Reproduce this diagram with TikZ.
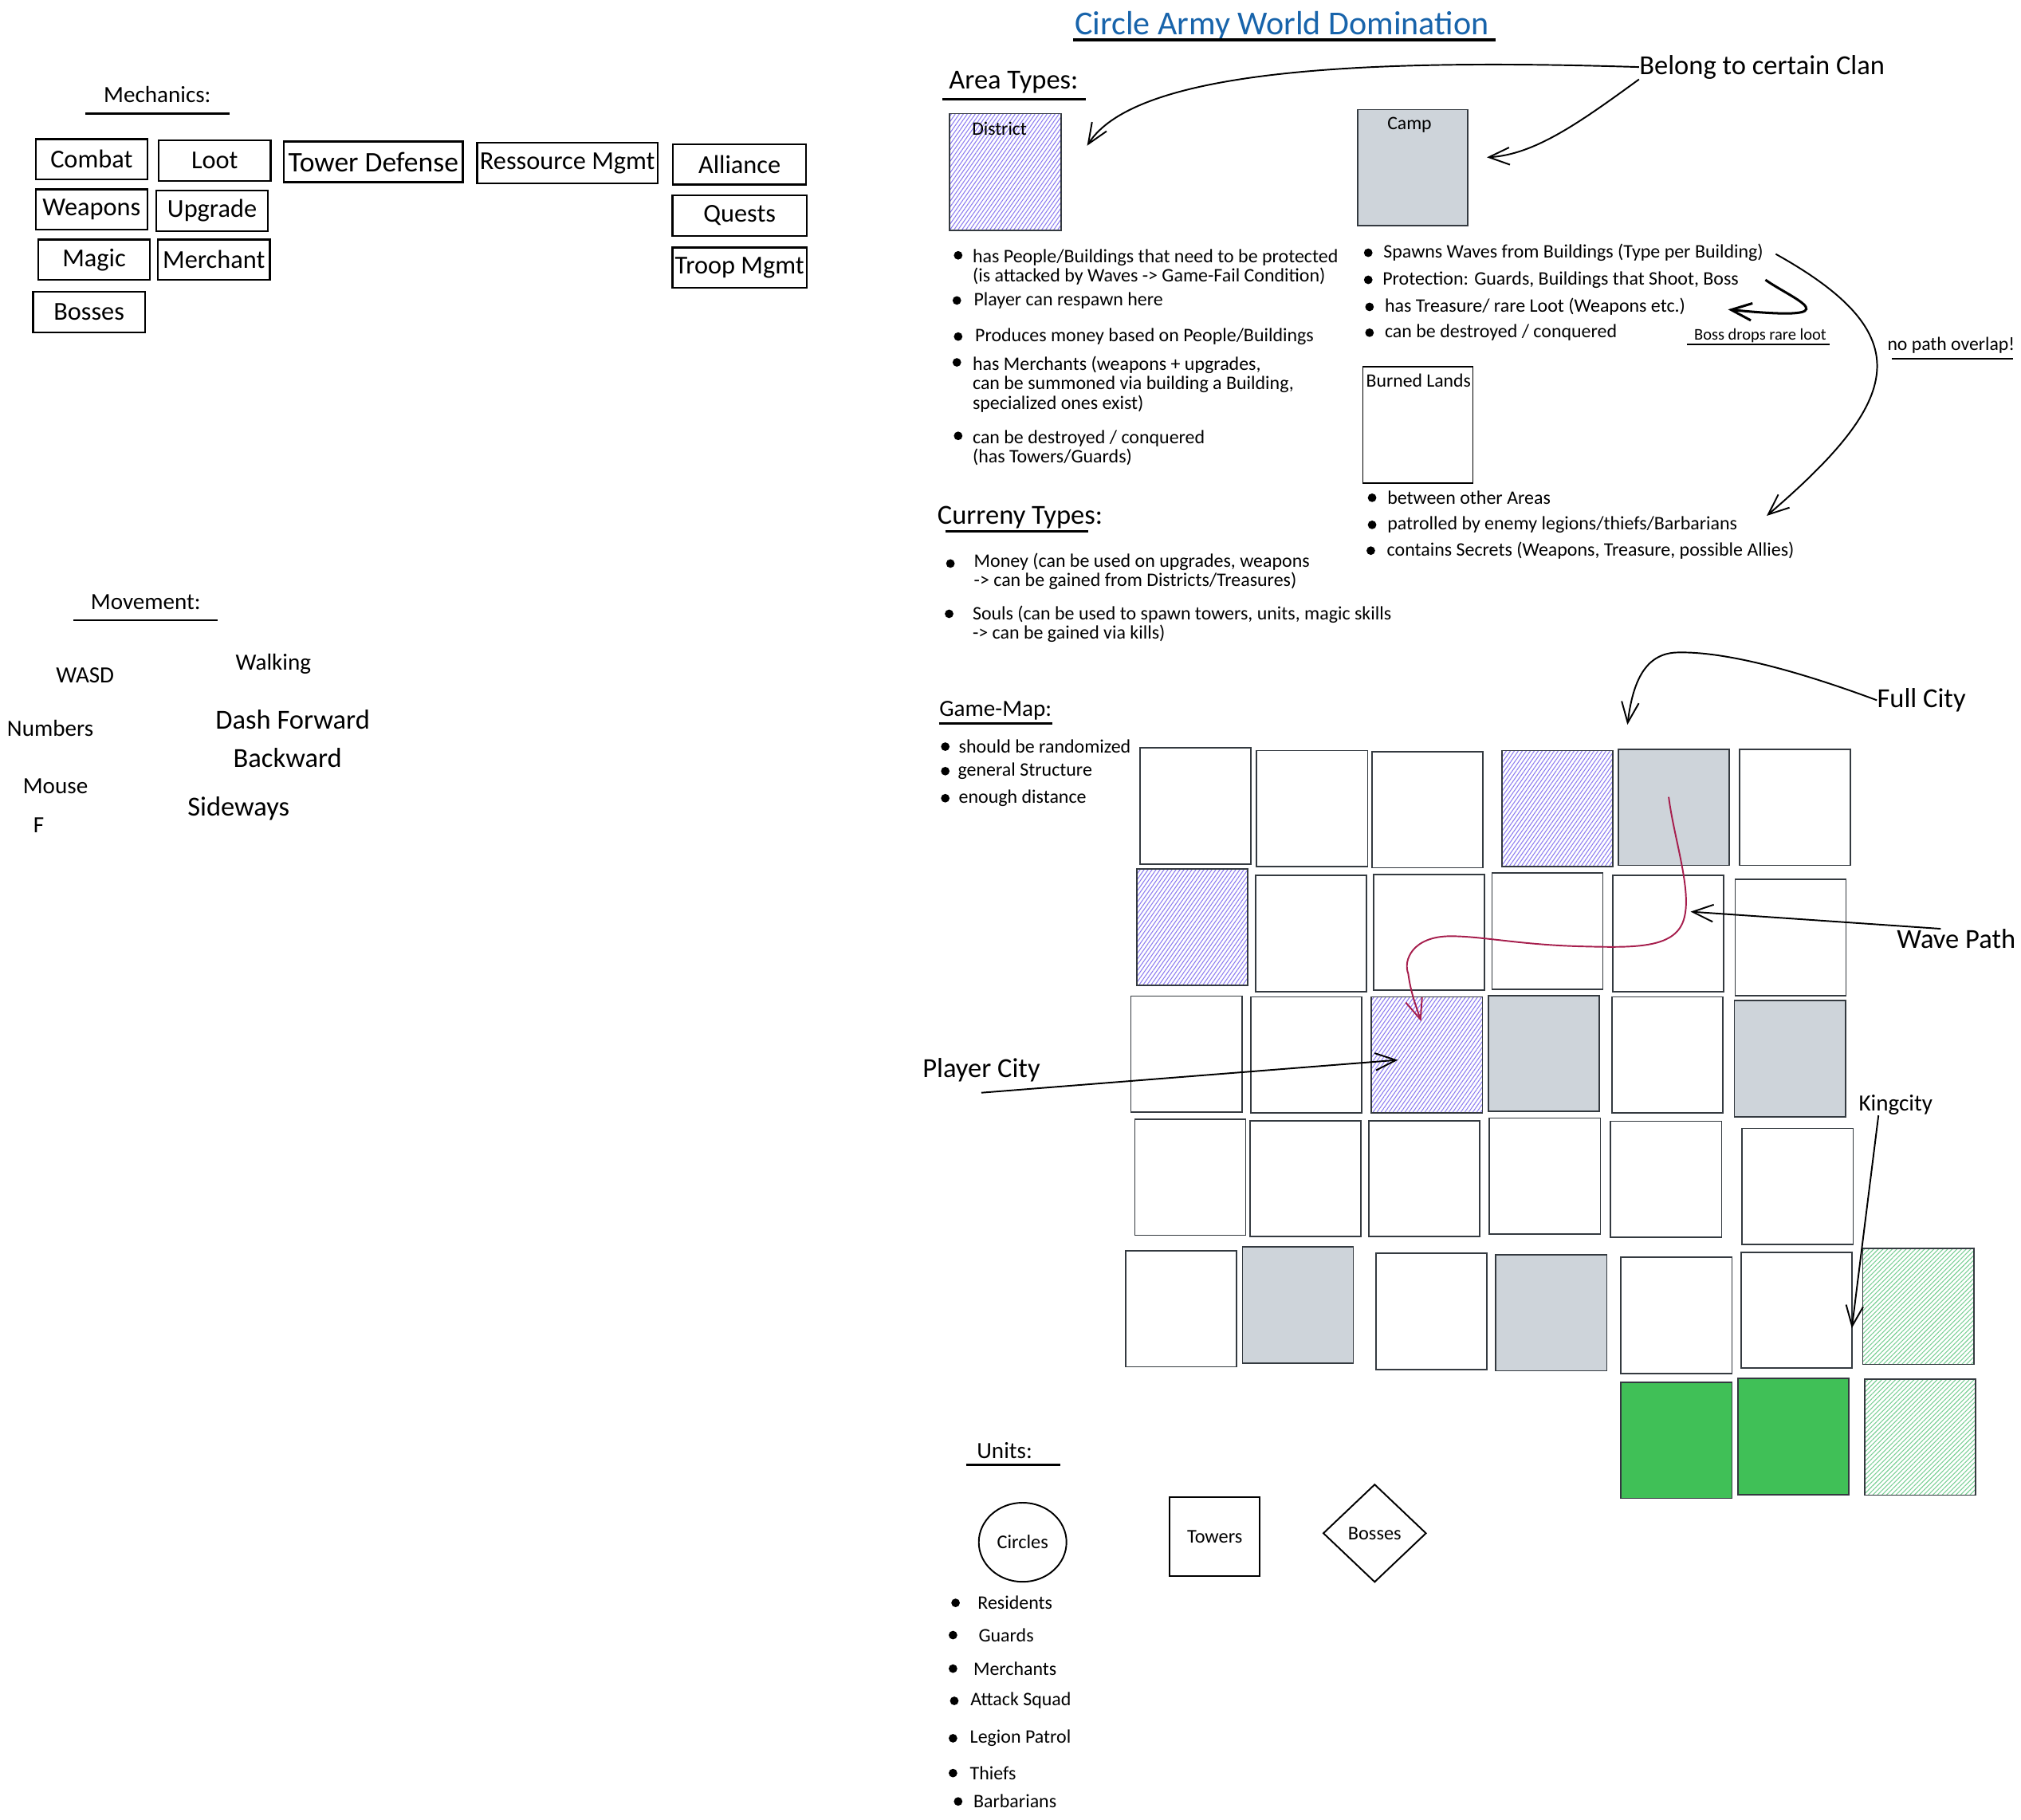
\documentclass[tikz,border=0pt]{standalone}
\usepackage{fontspec}
\setmainfont{Carlito}
\usetikzlibrary{positioning}
\usetikzlibrary{shapes,shapes.geometric}
\usetikzlibrary{arrows.meta,patterns.meta}
\definecolor{hatchviolet}{HTML}{8C7CF0}
\definecolor{hatchgreen}{HTML}{7ACF95}
\definecolor{campgray}{HTML}{CED4DA}
\definecolor{cityfill}{HTML}{40C057}
\definecolor{titleblue}{HTML}{1864AB}
\definecolor{wavered}{HTML}{A61E4D}
\definecolor{cellline}{HTML}{343A40}
\tikzstyle{novertex} = [draw=none, fill=none, inner sep=0pt, text centered]
\tikzstyle{title} = [novertex, text=titleblue, font=\fontsize{19.5}{21}\selectfont]
\tikzstyle{huge} = [novertex, font=\fontsize{16}{18}\selectfont]
\tikzstyle{head} = [novertex, font=\fontsize{13.5}{15}\selectfont]
\tikzstyle{note} = [novertex, font=\fontsize{11}{12}\selectfont]
\tikzstyle{item} = [novertex, align=left, anchor=west, font=\fontsize{11.1}{11.3}\selectfont]
\tikzstyle{tiny} = [novertex, font=\fontsize{9.5}{10}\selectfont]
\tikzstyle{bullet} = [circle, fill, draw=none, inner sep=0pt, minimum size=5pt]
\tikzstyle{mech} = [rectangle, draw, line width=1.1pt, inner sep=0pt, minimum width=65pt, minimum height=23.5pt, font=\fontsize{15}{17}\selectfont]
\tikzstyle{cell} = [rectangle, draw=cellline, line width=.8pt, minimum width=64.5pt, minimum height=67.5pt]
\tikzstyle{district} = [cell, pattern={Lines[angle=55,distance=1.9pt,line width=.5pt]}, pattern color=hatchviolet]
\tikzstyle{camp} = [cell, fill=campgray]
\tikzstyle{king} = [cell, fill=cityfill]
\tikzstyle{kingland} = [cell, pattern={Lines[angle=45,distance=1.9pt,line width=.5pt]}, pattern color=hatchgreen]
\tikzstyle{unit} = [draw, line width=.9pt, inner sep=0pt, font=\fontsize{11.3}{12}\selectfont]
\tikzstyle{rule} = [draw, line width=1.1pt]
\tikzstyle{high} = [draw, line width=.9pt, -{Straight Barb[length=12pt,width=10pt]}]
\tikzstyle{wave} = [high, draw=wavered]

\begin{document}
\begin{tikzpicture}[x=0.75pt, y=-0.75pt]
	\useasboundingbox (0,0) rectangle (1567.2,1411.4);

	% title node
	\node [title] (Title) at (994,20) {Circle Army World Domination};
	\draw [rule, line width=1.8pt] (832,31) -- (1160,31);

	% mechanics
	\node [head] (Mechanics) at (122,73) {Mechanics:};
	\draw [rule] (66,88) -- (178,88);
	\node [mech] (Combat) at (71,123.5) {Combat};
	\node [mech, below of=Combat, node distance=29.2pt] (Weapons) {Weapons};
	\node [mech, below of=Weapons, node distance=29.2pt, xshift=1.5pt] (Magic) {Magic};
	\node [mech, below of=Magic, node distance=30.5pt, xshift=-3pt] (Bosses) {Bosses};
	\node [mech] (Loot) at (166.5,124.5) {Loot};
	\node [mech, below of=Loot, node distance=29.2pt, xshift=-1.5pt] (Upgrade) {Upgrade};
	\node [mech, below of=Upgrade, node distance=28.5pt, xshift=1pt] (Merchant) {Merchant};
	\node [mech, minimum width=104pt, font=\fontsize{16.5}{18}\selectfont] (Tower) at (289.5,125.5) {Tower Defense};
	\node [mech, minimum width=105pt] (Ressource) at (440,126.5) {Ressource Mgmt};
	\node [mech, minimum width=77.5pt] (Alliance) at (573.5,127.5) {Alliance};
	\node [mech, minimum width=78pt, below of=Alliance, node distance=29.8pt] (Quests) {Quests};
	\node [mech, minimum width=78pt, below of=Quests, node distance=30.3pt] (Troop) {Troop Mgmt};

	% movement
	\node [head] (Movement) at (113,467) {Movement:};
	\draw [rule] (57,481) -- (169,481);
	\node [head] (Wasd) at (66,524) {WASD};
	\node [head] (Numbers) at (39,565) {Numbers};
	\node [head] (Mouse) at (43,610) {Mouse};
	\node [head] (KeyF) at (30,640) {F};
	\node [head] (Walking) at (212,515) {Walking};
	\node [huge] (Dash) at (227,558) {Dash Forward};
	\node [huge] (Backward) at (223,588) {Backward};
	\node [huge] (Sideways) at (185,627) {Sideways};

	% area types
	\node [huge] (AreaTypes) at (786,64) {Area Types:};
	\draw [rule] (731,77) -- (842,77);
	\node [huge, anchor=west] (Clan) at (1271,52) {Belong to certain Clan};
	\node [district, minimum width=65pt, minimum height=68pt] (District) at (779.5,133.5) {};
	\node [note] (DistrictName) at (775,100) {District};
	\node [camp, minimum width=64pt] (Camp) at (1095.5,130) {};
	\node [note] (CampName) at (1093,97) {Camp};
	\node [cell, draw=black, minimum width=64pt] (Burned) at (1099.5,329.5) {};
	\node [note] (BurnedName) at (1100,295) {Burned Lands};

	% district notes
	\node [bullet] (D1) at (743,198) {};
	\node [item] (D1t) at (754,207) {has People/Buildings that need to be protected\\(is attacked by Waves -> Game-Fail Condition)};
	\node [bullet] (D2) at (742,233) {};
	\node [item, right=7pt of D2] (D2t) {Player can respawn here};
	\node [bullet] (D3) at (743,261) {};
	\node [item, right=7pt of D3] (D3t) {Produces money based on People/Buildings};
	\node [bullet] (D4) at (742,281) {};
	\node [item] (D4t) at (754,298) {has Merchants (weapons + upgrades,\\can be summoned via building a Building,\\specialized ones exist)};
	\node [bullet] (D5) at (743,338) {};
	\node [item] (D5t) at (754,347.5) {can be destroyed / conquered\\(has Towers/Guards)};

	% camp notes
	\node [bullet] (C1) at (1061,196) {};
	\node [item, right=6pt of C1] (C1t) {Spawns Waves from Buildings (Type per Building)};
	\node [bullet] (C2) at (1061,217) {};
	\node [item, right=5.5pt of C2] (C2t) {Protection: Guards, Buildings that Shoot, Boss};
	\node [bullet] (C3) at (1062,238) {};
	\node [item, right=6pt of C3] (C3t) {has Treasure/ rare Loot (Weapons etc.)};
	\node [bullet] (C4) at (1062,258) {};
	\node [item, right=6pt of C4] (C4t) {can be destroyed / conquered};
	\node [tiny] (BossLoot) at (1365,260) {Boss drops rare loot};
	\draw [rule] (1308,267) -- (1419,267);
	\node [note] (Overlap) at (1513,268) {no path overlap!};
	\draw [rule] (1467,278) -- (1561,278);

	% burned lands notes
	\node [bullet] (L1) at (1064,386) {};
	\node [item, right=6pt of L1] (L1t) {between other Areas};
	\node [bullet] (L2) at (1064,407) {};
	\node [item, right=6pt of L2] (L2t) {patrolled by enemy legions/thiefs/Barbarians};
	\node [bullet] (L3) at (1063,427) {};
	\node [item, right=6.5pt of L3] (L3t) {contains Secrets (Weapons, Treasure, possible Allies)};

	% currency types
	\node [huge] (Currency) at (791,401) {Curreny Types:};
	\draw [rule] (733,412) -- (844,412);
	\node [bullet] (M1) at (737,437) {};
	\node [item] (M1t) at (755,443) {Money (can be used on upgrades, weapons\\-> can be gained from Districts/Treasures)};
	\node [bullet] (M2) at (736,476) {};
	\node [item] (M2t) at (754,484) {Souls (can be used to spawn towers, units, magic skills\\-> can be gained via kills)};

	% game map notes
	\node [head] (GameMap) at (772,551) {Game-Map:};
	\draw [rule] (728,561) -- (816,561);
	\node [bullet] (G1) at (733,579) {};
	\node [item, right=5pt of G1] (G1t) {should be randomized};
	\node [bullet] (G2) at (733,598) {};
	\node [item, right=4.5pt of G2] (G2t) {general Structure};
	\node [bullet] (G3) at (733,619) {};
	\node [item, right=5pt of G3] (G3t) {enough distance};

	% place map cells
	\node [cell] (R1C1) at (927,625) {};
	\node [cell] (R1C2) at (1017.5,627) {};
	\node [cell] (R1C3) at (1107,628) {};
	\node [district] (R1C4) at (1207.5,627) {};
	\node [camp] (R1C5) at (1298,626) {};
	\node [cell] (R1C6) at (1392,626) {};
	\node [district] (R2C1) at (924.5,719) {};
	\node [cell] (R2C2) at (1016.5,724) {};
	\node [cell] (R2C3) at (1108,723) {};
	\node [cell] (R2C4) at (1200,722) {};
	\node [cell] (R2C5) at (1293.5,724) {};
	\node [cell] (R2C6) at (1388.5,727) {};
	\node [cell] (R3C1) at (920,817.5) {};
	\node [cell] (R3C2) at (1013,818) {};
	\node [district] (R3C3) at (1106.5,818) {};
	\node [camp] (R3C4) at (1197,817) {};
	\node [cell] (R3C5) at (1293,818) {};
	\node [camp] (R3C6) at (1388,821) {};
	\node [cell] (R4C1) at (923,913) {};
	\node [cell] (R4C2) at (1012.5,914) {};
	\node [cell] (R4C3) at (1104.5,914) {};
	\node [cell] (R4C4) at (1198,912) {};
	\node [cell] (R4C5) at (1292,914.5) {};
	\node [cell] (R4C6) at (1394,920) {};
	\node [cell] (R5C1) at (916,1015) {};
	\node [camp] (R5C2) at (1006.5,1012) {};
	\node [cell] (R5C3) at (1110,1017) {};
	\node [camp] (R5C4) at (1203,1018) {};
	\node [cell] (R5C5) at (1300,1020) {};
	\node [cell] (R5C6) at (1393,1016) {};
	\node [kingland] (R5C7) at (1487.5,1013) {};
	\node [king] (R6C5) at (1300,1117) {};
	\node [king] (R6C6) at (1390.5,1114) {};
	\node [kingland] (R6C7) at (1489,1114.5) {};

	% map labels
	\node [huge] (FullCity) at (1490,543) {Full City};
	\node [huge] (WavePath) at (1517,728) {Wave Path};
	\node [huge] (PlayerCity) at (761,830) {Player City};
	\node [head] (Kingcity) at (1470,857) {Kingcity};

	% units
	\node [head] (Units) at (779,1125) {Units:};
	\draw [rule] (749,1136) -- (822,1136);
	\node [unit, ellipse, minimum width=51pt, minimum height=46pt] (Circles) at (793,1196) {Circles};
	\node [unit, rectangle, minimum width=52.5pt, minimum height=46pt] (Towers) at (942,1191.5) {Towers};
	\node [unit, diamond, minimum width=60pt, minimum height=57pt] (Bosses2) at (1066,1189) {Bosses};
	\node [bullet] (U1) at (741,1243) {};
	\node [item, right=10pt of U1] (U1t) {Residents};
	\node [bullet] (U2) at (739,1268) {};
	\node [item, right=12pt of U2] (U2t) {Guards};
	\node [bullet] (U3) at (739,1294) {};
	\node [item, right=9pt of U3] (U3t) {Merchants};
	\node [bullet] (U4) at (740,1319) {};
	\node [item, right=6.5pt of U4] (U4t) {Attack Squad};
	\node [bullet] (U5) at (739,1348) {};
	\node [item, right=7pt of U5] (U5t) {Legion Patrol};
	\node [bullet] (U6) at (739,1375) {};
	\node [item, right=7pt of U6] (U6t) {Thiefs};
	\node [bullet] (U7) at (743,1397) {};
	\node [item, right=6pt of U7] (U7t) {Barbarians};

	% arrow tips
	\coordinate (DistrictTip) at (843,113);
	\coordinate (CampTip) at (1153,122);
	\coordinate (LootStart) at (1369,217);
	\coordinate (LootTip) at (1340,240);
	\coordinate (SpawnStart) at (1377,197);
	\coordinate (SecretsTip) at (1370,400);
	\coordinate (FullTip) at (1262,562);
	\coordinate (WaveStart) at (1294,618);
	\coordinate (WaveTip) at (1102,792);
	\coordinate (WavePathTip) at (1311,707);
	\coordinate (PlayerTip) at (1084,822);
	\coordinate (KingTip) at (1436,1030);

	% draw edges
	\path [high] (Clan.west) .. controls (1050,45) and (880,55) .. (DistrictTip);
	\path [high] (Clan.south west) .. controls (1225,95) and (1190,120) .. (CampTip);
	\path [high, line width=1.4pt] (LootStart) .. controls (1390,232) and (1440,250) .. (LootTip);
	\path [high] (SpawnStart) .. controls (1490,260) and (1475,310) .. (SecretsTip);
	\path [high] (FullCity.west) .. controls (1380,515) and (1330,505) .. (1300,506) .. controls (1275,507) and (1266,530) .. (FullTip);
	\path [wave] (WaveStart) .. controls (1298,650) and (1312,690) .. (1306,712) .. controls (1300,735) and (1270,735) .. (1230,734) .. controls (1180,733) and (1150,726) .. (1125,726) .. controls (1095,726) and (1088,745) .. (1092,755) .. controls (1094,770) and (1098,780) .. (WaveTip);
	\path [high] ([xshift=-9pt]WavePath.north) -- (WavePathTip);
	\path [high] ([yshift=-6pt]PlayerCity.south) -- (PlayerTip);
	\path [high] ([xshift=-10pt]Kingcity.south) -- (KingTip);
\end{tikzpicture}
\end{document}
